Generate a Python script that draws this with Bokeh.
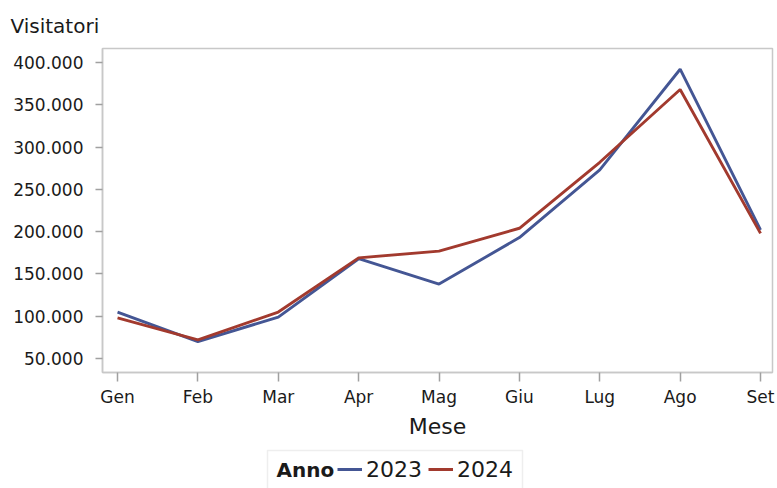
from bokeh.plotting import figure
from bokeh.layouts import column
from bokeh.models import Range1d, FixedTicker, Legend, LegendItem, Label, BoxAnnotation
from bokeh.embed import file_html
from bokeh.resources import INLINE

months = ["Gen", "Feb", "Mar", "Apr", "Mag", "Giu", "Lug", "Ago", "Set"]
v2023 = [105000, 70000, 99000, 168000, 138000, 193000, 273000, 392000, 202000]
v2024 = [98000, 72000, 105000, 169000, 177000, 204000, 282000, 368000, 198000]
yticks = [50000, 100000, 150000, 200000, 250000, 300000, 350000, 400000]
ylabels = ["50.000", "100.000", "150.000", "200.000", "250.000", "300.000", "350.000", "400.000"]
series_names = ["2023", "2024"]
colors = ["#445694", "#A23A2E"]

x = list(range(len(months)))
FONT = "DejaVu Sans"
TXT = "#1a1a1a"

# ---------- main chart ----------
p = figure(width=777, height=448, output_backend="svg", toolbar_location=None,
           x_range=Range1d(-0.187, 8.149), y_range=Range1d(33500, 416500),
           min_border_left=102, min_border_right=5, min_border_top=47, min_border_bottom=76)

p.title.text = "Visitatori"
p.title.text_font = FONT
p.title.text_font_size = "20px"
p.title.text_font_style = "normal"
p.title.text_color = TXT
p.title.align = "left"
p.title.offset = -92
p.title.standoff = 22

p.line(x, v2023, line_color=colors[0], line_width=2.9)
p.line(x, v2024, line_color=colors[1], line_width=2.9)

p.xgrid.visible = False
p.ygrid.visible = False
p.outline_line_color = "#c8c8c8"
p.outline_line_width = 1.5

for ax in (p.xaxis[0], p.yaxis[0]):
    ax.axis_line_color = "#c8c8c8"
    ax.axis_line_width = 1.5
    ax.major_tick_line_color = "#a0a0a0"
    ax.major_tick_line_width = 1.5
    ax.major_tick_out = 9
    ax.major_tick_in = 0
    ax.minor_tick_line_color = None
    ax.major_label_text_font = FONT
    ax.major_label_text_font_size = "17px"
    ax.major_label_text_color = TXT

p.yaxis[0].major_tick_out = 7
p.yaxis[0].major_label_standoff = 12

p.xaxis[0].ticker = FixedTicker(ticks=x)
p.xaxis[0].major_label_overrides = {i: m for i, m in enumerate(months)}
p.xaxis[0].major_label_standoff = 5
p.xaxis[0].axis_label = "Mese"
p.xaxis[0].axis_label_text_font = FONT
p.xaxis[0].axis_label_text_font_size = "22px"
p.xaxis[0].axis_label_text_font_style = "normal"
p.xaxis[0].axis_label_text_color = TXT
p.xaxis[0].axis_label_standoff = 4

p.yaxis[0].ticker = FixedTicker(ticks=yticks)
p.yaxis[0].major_label_overrides = {t: l for t, l in zip(yticks, ylabels)}

# ---------- legend strip (frame aligned with the chart frame: x 102..772 px) ----------
lf = figure(width=777, height=40, output_backend="svg", toolbar_location=None,
            x_range=Range1d(102, 772), y_range=Range1d(40, 0),
            min_border_left=0, min_border_right=0, min_border_top=0, min_border_bottom=0)
lf.axis.visible = False
lf.grid.visible = False
lf.outline_line_color = None

# key renderers: same data, lying outside this strip's ranges (only their legend keys show)
k1 = lf.line(x, v2023, line_color=colors[0], line_width=3)
k2 = lf.line(x, v2024, line_color=colors[1], line_width=3)

lf.add_layout(BoxAnnotation(left=267, right=522, top=2, bottom=45,
                            fill_alpha=0, line_color="#c8c8c8", line_width=1.5))
lf.add_layout(Label(x=276, y=21, text="Anno", text_font=FONT, text_font_size="20px",
                    text_font_style="bold", text_color=TXT,
                    text_baseline="middle", text_align="left"))

legend = Legend(items=[LegendItem(label=series_names[0], renderers=[k1]),
                       LegendItem(label=series_names[1], renderers=[k2])],
                orientation="horizontal", location=(235, 6),
                label_text_font=FONT, label_text_font_size="22px",
                label_text_color=TXT, background_fill_alpha=0,
                border_line_color=None,
                glyph_width=25, glyph_height=26, label_standoff=4, spacing=6,
                padding=0, margin=0)
lf.add_layout(legend)

layout = column(p, lf, spacing=0)
open("out.html", "w").write(file_html(layout, INLINE))
